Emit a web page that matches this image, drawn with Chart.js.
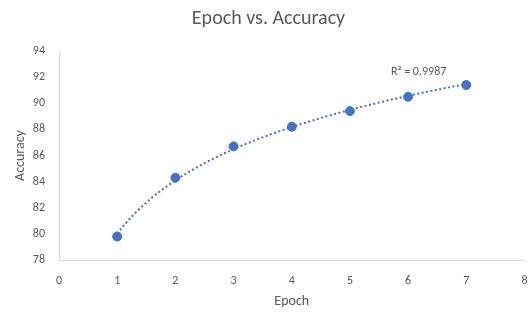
<!DOCTYPE html>
<html>
<head>
<meta charset="utf-8">
<script src="https://cdn.jsdelivr.net/npm/chart.js@4"></script>
<style>
  html, body { margin: 0; padding: 0; background: #fff; }
  #wrap { width: 530px; height: 313px; }
</style>
</head>
<body>
<div id="wrap"><canvas id="chart" width="530" height="313"></canvas></div>
<script>
// données
const epochs = [1, 2, 3, 4, 5, 6, 7];
const accuracy = [79.8, 84.3, 86.7, 88.2, 89.4, 90.5, 91.4];
const r2Label = 'R² = 0.9987';

const blue = '#4472C4';
const grey = '#595959';
const fontFamily = 'Carlito, Calibri, Lato, sans-serif';

// courbe de tendance logarithmique (moindres carrés sur ln(x))
const lx = epochs.map(x => Math.log(x));
const n = lx.length;
const mx = lx.reduce((a, b) => a + b, 0) / n;
const my = accuracy.reduce((a, b) => a + b, 0) / n;
let sxy = 0, sxx = 0;
for (let i = 0; i < n; i++) {
  sxy += (lx[i] - mx) * (accuracy[i] - my);
  sxx += (lx[i] - mx) * (lx[i] - mx);
}
const slope = sxy / sxx;
const icpt = my - slope * mx;
const trend = [];
for (let x = 1; x <= 7.0001; x += 0.1) trend.push({ x: x, y: slope * Math.log(x) + icpt });

// étiquette R² placée en coordonnées de données
const r2Plugin = {
  id: 'r2Text',
  afterDatasetsDraw(chart) {
    const { ctx, scales } = chart;
    ctx.save();
    ctx.fillStyle = grey;
    ctx.font = '12px ' + fontFamily;
    ctx.textAlign = 'center';
    ctx.textBaseline = 'middle';
    ctx.fillText(r2Label, scales.x.getPixelForValue(6.18), scales.y.getPixelForValue(92.4));
    ctx.restore();
  }
};

new Chart(document.getElementById('chart').getContext('2d'), {
  type: 'scatter',
  data: {
    datasets: [
      {
        label: 'Accuracy',
        data: epochs.map((x, i) => ({ x: x, y: accuracy[i] })),
        backgroundColor: blue,
        borderColor: blue,
        pointRadius: 4.5,
        pointHoverRadius: 4.5,
        order: 1
      },
      {
        label: 'Tendance',
        type: 'line',
        data: trend,
        borderColor: blue,
        borderWidth: 2,
        borderDash: [2, 2.5],
        pointRadius: 0,
        fill: false,
        tension: 0,
        order: 2
      }
    ]
  },
  options: {
    responsive: false,
    animation: false,
    layout: { padding: { top: 0, right: 1, bottom: 0, left: 8 } },
    scales: {
      x: {
        type: 'linear',
        min: 0, max: 8,
        ticks: { stepSize: 1, color: grey, font: { size: 12, family: fontFamily }, padding: 14 },
        grid: { display: false, drawTicks: false },
        border: { display: true, color: '#D9D9D9', width: 1 },
        title: { display: true, text: 'Epoch', color: grey, font: { size: 14, family: fontFamily }, padding: { top: 4, bottom: 3 } },
        afterFit(scale) { scale.height = 53; scale.paddingLeft = 0; scale.paddingRight = 0; }
      },
      y: {
        min: 78, max: 94,
        ticks: { stepSize: 2, color: grey, font: { size: 12, family: fontFamily }, padding: 14 },
        grid: { display: false, drawTicks: false },
        border: { display: true, color: '#D9D9D9', width: 1 },
        title: { display: true, text: 'Accuracy', color: grey, font: { size: 14, family: fontFamily }, padding: { bottom: 2 } },
        afterFit(scale) { scale.width = 51; }
      }
    },
    plugins: {
      legend: { display: false },
      tooltip: { enabled: false },
      title: {
        display: true,
        text: 'Epoch vs. Accuracy',
        color: grey,
        font: { size: 20, weight: 'normal', family: fontFamily },
        padding: { top: 7, bottom: 20 }
      }
    }
  },
  plugins: [r2Plugin]
});
</script>
</body>
</html>
